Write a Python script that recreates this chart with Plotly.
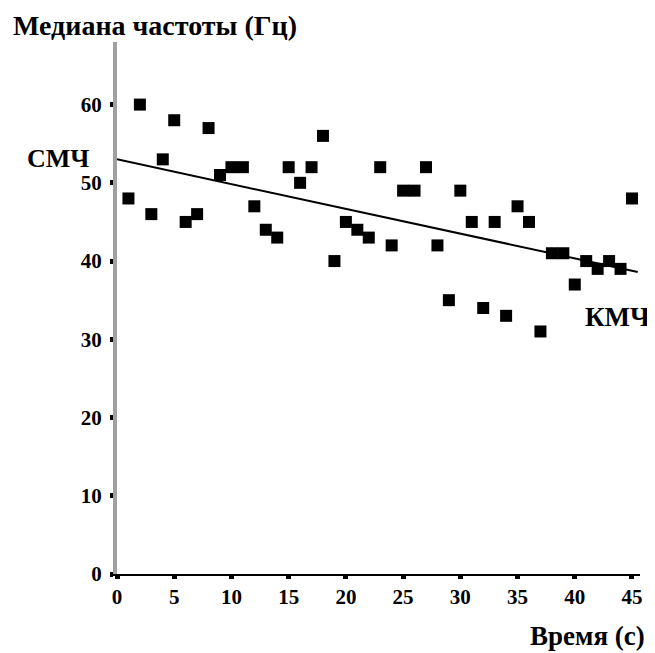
import plotly.graph_objects as go

time_s = list(range(1, 46))
median_hz = [48, 60, 46, 53, 58, 45, 46, 57, 51, 52,
             52, 47, 44, 43, 52, 50, 52, 56, 40, 45,
             44, 43, 52, 42, 49, 49, 52, 42, 35, 49,
             45, 34, 45, 33, 47, 45, 31, 41, 41, 37,
             40, 39, 40, 39, 48]
trend_x = [0, 45.5]
trend_y = [53, 38.6]
x_ticks = [0, 5, 10, 15, 20, 25, 30, 35, 40, 45]
y_ticks = [0, 10, 20, 30, 40, 50, 60]

font_family = "Liberation Serif"

# page body has an 8px default margin; layout is computed in page pixels
PW, PH = 523, 532
def px_x(page_x):
    return (page_x - 117) / PW
def px_y(page_y):
    return (574 - page_y) / PH

fig = go.Figure()
fig.add_trace(go.Scatter(x=trend_x, y=trend_y, mode="lines",
                         line=dict(color="black", width=2), hoverinfo="skip"))
fig.add_trace(go.Scatter(x=time_s, y=median_hz, mode="markers",
                         marker=dict(symbol="square", size=12, color="black"),
                         cliponaxis=False))

tickfont = dict(family=font_family, size=21, weight="bold", color="black")

fig.update_layout(
    width=647, height=645,
    margin=dict(l=109, r=15, t=34, b=79, autoexpand=False),
    paper_bgcolor="white", plot_bgcolor="white",
    showlegend=False,
    font=dict(family=font_family, color="black", size=16),
    xaxis=dict(range=[0, 45.7], tickvals=x_ticks, showgrid=False, zeroline=False,
               showline=True, linecolor="black", linewidth=2,
               ticks="outside", ticklen=3, tickwidth=5, tickcolor="black",
               tickfont=tickfont),
    yaxis=dict(range=[0, 68], tickvals=y_ticks, showgrid=False, zeroline=False,
               showline=True, linecolor="#a0a0a0", linewidth=4,
               ticks="outside", ticklen=3, tickwidth=5, tickcolor="black",
               tickfont=tickfont, ticklabelstandoff=4),
    annotations=[
        dict(text="<b>Медиана частоты (Гц)</b>", xref="paper", yref="paper",
             x=px_x(11), y=px_y(25), xanchor="left", yanchor="middle",
             showarrow=False, font=dict(size=28, family=font_family)),
        dict(text="<b>Время (с)</b>", xref="paper", yref="paper",
             x=px_x(647), y=px_y(636), xanchor="right", yanchor="middle",
             showarrow=False, font=dict(size=27, family=font_family)),
        dict(text="<b>СМЧ</b>", xref="paper", yref="paper",
             x=px_x(25), y=px_y(158), xanchor="left", yanchor="middle",
             showarrow=False, font=dict(size=26, family=font_family)),
        dict(text="<b>КМЧ</b>", xref="paper", yref="paper",
             x=px_x(583), y=px_y(317), xanchor="left", yanchor="middle",
             showarrow=False, font=dict(size=27, family=font_family)),
    ],
)

fig.write_html("out.html")
